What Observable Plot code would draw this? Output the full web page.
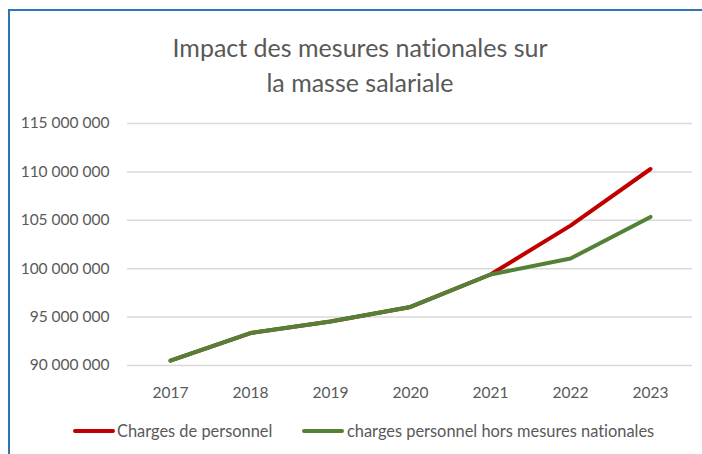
<!DOCTYPE html>
<html>
<head>
<meta charset="utf-8">
<script src="https://cdn.jsdelivr.net/npm/d3@7"></script>
<script src="https://cdn.jsdelivr.net/npm/@observablehq/plot@0.6"></script>
<style>
  html, body { margin: 0; padding: 0; background: #fff; }
  #wrap { position: relative; width: 702px; height: 454px; overflow: hidden; font-family: Lato, "Open Sans", sans-serif; color: #595959; font-variant-ligatures: none; font-feature-settings: "liga" 0; }
  #frame { position: absolute; left: 8px; top: 9px; width: 800px; height: 600px; border-left: 2px solid #2e75b6; border-top: 2px solid #2e75b6; }
  #title { position: absolute; left: 110px; width: 500px; top: 30px; text-align: center; font-size: 25px; line-height: 35px; color: #595959; }
  #chart { position: absolute; left: 0; top: 100px; }
  #chart text { font-variant-ligatures: none; }
  .leg { position: absolute; top: 421px; font-size: 16.4px; line-height: 19px; white-space: nowrap; color: #595959; }
  .sw { position: absolute; height: 4px; border-radius: 2px; top: 429px; }
</style>
</head>
<body>
<div id="wrap">
  <div id="frame"></div>
  <div id="title">Impact des mesures nationales sur<br>la masse salariale</div>
  <div id="chart"></div>
  <div class="sw" style="left:73px;width:42px;background:#c00000"></div>
  <div class="leg" style="left:117px">Charges de personnel</div>
  <div class="sw" style="left:302px;width:42px;background:#538135"></div>
  <div class="leg" style="left:347px">charges personnel hors mesures nationales</div>
</div>
<script>
const years = [2017, 2018, 2019, 2020, 2021, 2022, 2023];
const chargesPersonnel = [90500000, 93350000, 94550000, 96050000, 99400000, 104450000, 110300000];
const horsMesuresNationales = [90500000, 93350000, 94550000, 96050000, 99400000, 101050000, 105350000];
const yTicks = [90000000, 95000000, 100000000, 105000000, 110000000, 115000000];

const seriesNames = ["Charges de personnel", "charges personnel hors mesures nationales"];
const seriesColors = ["#c00000", "#538135"];
const rows = [
  ...years.map((y, i) => ({year: String(y), value: chargesPersonnel[i], series: seriesNames[0]})),
  ...years.map((y, i) => ({year: String(y), value: horsMesuresNationales[i], series: seriesNames[1]}))
];

const fmt = d => d3.format(",")(d).replace(/,/g, "\u00a0");

const chart = Plot.plot({
  width: 702,
  height: 300,
  marginLeft: 127,
  marginRight: 10,
  marginTop: 23,
  marginBottom: 35,
  style: {fontFamily: "Lato, 'Open Sans', sans-serif", fontSize: "15.5px", color: "#595959", background: "transparent"},
  x: {type: "point", domain: years.map(String), padding: 0.5, label: null, tickSize: 0, tickPadding: 21},
  y: {domain: [90000000, 115000000], ticks: yTicks, tickFormat: fmt, label: null, tickSize: 0, tickPadding: 18},
  color: {domain: seriesNames, range: seriesColors},
  marks: [
    Plot.ruleY(yTicks, {stroke: "#d9d9d9", strokeWidth: 1.5}),
    Plot.line(rows.filter(r => r.series === seriesNames[0]), {x: "year", y: "value", stroke: "series", strokeWidth: 4, strokeLinecap: "round", strokeLinejoin: "round"}),
    Plot.line(rows.filter(r => r.series === seriesNames[1]), {x: "year", y: "value", stroke: "series", strokeWidth: 4, strokeLinecap: "round", strokeLinejoin: "round"})
  ]
});
document.getElementById("chart").appendChild(chart);
</script>
</body>
</html>
